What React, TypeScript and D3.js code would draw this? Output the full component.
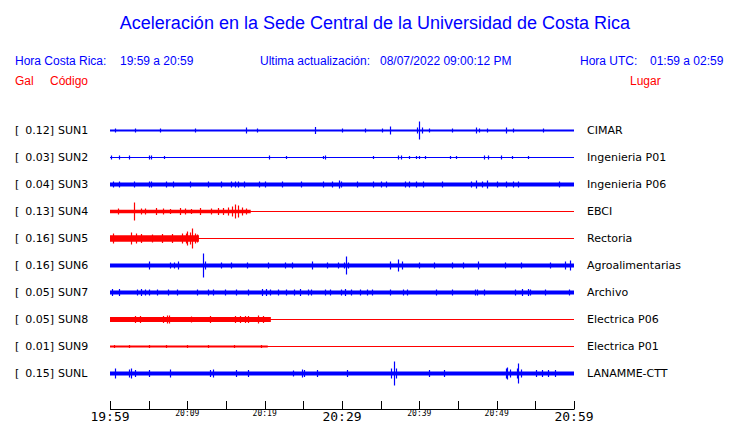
import React from "react";
import * as d3 from "d3";

const W = 740;
const H = 423;

const stations = ["SUN1", "SUN2", "SUN3", "SUN4", "SUN5", "SUN6", "SUN7", "SUN8", "SUN9", "SUNL"];
const galValues = ["0.12", "0.03", "0.04", "0.13", "0.16", "0.16", "0.05", "0.05", "0.01", "0.15"];
const places = ["CIMAR", "Ingenieria P01", "Ingenieria P06", "EBCI", "Rectoria", "Agroalimentarias", "Archivo", "Electrica P06", "Electrica P01", "LANAMME-CTT"];
const colors = ["blue", "blue", "blue", "red", "red", "blue", "blue", "red", "red", "blue"];
// background noise half-amplitude (relative units)
const noiseLevels = [1, 0.5, 2, 1.8, 3.3, 1.9, 2.1, 2.4, 1, 2];
// minute at which recorded signal ends (then flat line)
const dataEnds = [60, 60, 60, 18.2, 11.5, 60, 60, 20.8, 20.4, 60];
// spikes: [minute, half amplitude]
const spikeList: [number, number][][] = [
  [[0.6, 2], [3.2, 2], [6.5, 2], [11, 2], [17.6, 3], [19, 2], [26.5, 3.5], [30, 2], [33, 2], [35.2, 2], [36.2, 4], [39.7, 3], [39.95, 9], [40.3, 3], [41.2, 2], [44.2, 2], [47.3, 3], [47.7, 2], [48.8, 2], [51.2, 3], [52.1, 2], [56, 2]],
  [[0.1, 2], [1.1, 2], [2.5, 2], [5, 2], [5.3, 2], [7, 1.5], [20.5, 2], [22.7, 1.5], [27.5, 1.5], [27.8, 2], [34, 1.5], [37.3, 2], [37.6, 2], [38.7, 1.5], [39.6, 1.5], [40, 1.5], [40.7, 1.5], [44, 1.5], [44.7, 1.5], [48.4, 2], [48.9, 2], [50.6, 2], [52, 1.5], [54, 1.5]],
  [[0.4, 3], [1.1, 3], [3.1, 3], [5, 3], [5.3, 3], [7.2, 3], [8.1, 3], [10.3, 3], [12.7, 3], [14.3, 3], [15.6, 3], [16.2, 3], [16.6, 3], [17.3, 3], [19.3, 3], [20.1, 3], [22.3, 3], [24.7, 3], [27.5, 3], [28.7, 3], [29.6, 4], [29.9, 3], [32, 3], [34, 3], [35.1, 3], [35.7, 3], [38.1, 3], [38.7, 3], [39.6, 3], [40.5, 3], [42.9, 3], [46.7, 3], [47.3, 4], [48.1, 3], [48.7, 4], [50.1, 3], [51.2, 3], [52.1, 3], [52.7, 3], [58.1, 3]],
  [[1.0, 3], [3.1, 9], [4, 3], [4.5, 3], [6, 3.5], [6.8, 3], [7.7, 2.5], [9, 3.5], [9.7, 3], [10.5, 2.5], [11.6, 3.5], [13, 3], [14, 3.5], [14.6, 3.5], [15.2, 4], [15.8, 5], [16.1, 7], [16.6, 6], [17.1, 4], [17.6, 3]],
  [[0.4, 5], [2.7, 6], [3.4, 5], [4, 4.5], [5.4, 4], [6.7, 4.5], [8, 4.5], [9.3, 5], [9.8, 5], [10, 7], [10.4, 6], [10.6, 10], [11, 5], [11.2, 4]],
  [[5, 4], [7.8, 3], [8.3, 3], [8.8, 4], [12.0, 12], [12.3, 4], [14.4, 3], [15.7, 3], [17.7, 3], [20.4, 3], [22.6, 3], [23.5, 3], [26.1, 4], [28, 3], [29.5, 3], [30.2, 3], [30.5, 9], [30.8, 3], [36.2, 4], [37.2, 6], [37.8, 4], [40, 3], [41.9, 3], [44.2, 3], [45.6, 3], [47.6, 4], [51.1, 3], [53.2, 3], [56.9, 3], [58.8, 4], [59.5, 5]],
  [[0.3, 3.5], [1.2, 3.5], [3.5, 3], [4, 3.5], [4.5, 3], [5, 3], [6.1, 3], [7.5, 3], [8.7, 3], [11.2, 3], [12.7, 3], [13.3, 3], [14.9, 3], [16.3, 3], [17.8, 3], [19.7, 3.5], [20.2, 3.5], [20.7, 3], [21.7, 3], [22.8, 3], [23.8, 3], [24.6, 3.5], [25.6, 3], [26, 3], [27.8, 3], [28.5, 3], [29.9, 3], [30.4, 3.5], [31.1, 3], [32.3, 3], [33.2, 3], [33.9, 3], [36.2, 3], [37.9, 3], [38.4, 3], [42.2, 3], [44.2, 3], [47.2, 3], [47.5, 3], [48.3, 3], [52.4, 3], [53.3, 3.5], [54.1, 3.5], [54.3, 3], [56.3, 3], [59.4, 3]],
  [[3.2, 3.5], [3.9, 3.5], [6.8, 3.5], [7.4, 4], [7.6, 4], [10.5, 3], [12.9, 3.5], [16.2, 3.5], [16.8, 3.5], [17.4, 3.5], [17.9, 3.5], [19.1, 4], [19.8, 3.5]],
  [[0.5, 1.5], [2.5, 1.5], [5, 1.5], [7.2, 1.5], [10, 1.5], [12.7, 1.5], [16, 1.5], [19.5, 1.5]],
  [[0.7, 5], [2.5, 4], [2.7, 5], [3.2, 3.5], [5, 3.5], [7.8, 4], [12.9, 3.5], [13.3, 4], [16.3, 3.5], [17.8, 3.5], [23.6, 3], [24.8, 4], [25.1, 3.5], [26.8, 3.5], [30.6, 3.5], [36.4, 5], [36.7, 12], [37, 5], [41.3, 3.5], [43.2, 3.5], [51.2, 5], [51.4, 6], [51.7, 4], [52.6, 5], [52.7, 10], [53.2, 4], [55.1, 3.5], [55.8, 3.5], [56.6, 3.5], [57.5, 3.5]],
];

const tickMinutes = d3.range(0, 61, 5);
const tickLabels: { m: number; text: string; big: boolean }[] = [
  { m: 0, text: "19:59", big: true },
  { m: 10, text: "20:09", big: false },
  { m: 20, text: "20:19", big: false },
  { m: 30, text: "20:29", big: true },
  { m: 40, text: "20:39", big: false },
  { m: 50, text: "20:49", big: false },
  { m: 60, text: "20:59", big: true },
];

const SANS = "'Liberation Sans', Arial, sans-serif";
const DJ = "'DejaVu Sans', sans-serif";
const MONO = "'DejaVu Sans Mono', monospace";

export default function App() {
  const x = d3.scaleLinear().domain([0, 60]).range([110, 574]);
  const rowY = d3.scaleLinear().domain([0, 9]).range([130, 373]);
  const amp = d3.scaleLinear().domain([-1, 1]).range([1, -1]);

  return (
    <svg width={W} height={H} style={{ display: "block", position: "absolute", left: 0, top: 0, background: "#fff" }}>
      <text x={375} y={29} textAnchor="middle" fontFamily={SANS} fontSize={18} fill="blue">
        Aceleración en la Sede Central de la Universidad de Costa Rica
      </text>
      <g fontFamily={SANS} fontSize={12} fill="blue">
        <text x={15} y={65}>Hora Costa Rica:</text>
        <text x={120} y={65}>19:59 a 20:59</text>
        <text x={260} y={65}>Ultima actualización:</text>
        <text x={380} y={65}>08/07/2022 09:00:12 PM</text>
        <text x={580} y={65}>Hora UTC:</text>
        <text x={650} y={65}>01:59 a 02:59</text>
      </g>
      <g fontFamily={SANS} fontSize={12} fill="red">
        <text x={15} y={85}>Gal</text>
        <text x={50} y={85}>Código</text>
        <text x={630} y={85}>Lugar</text>
      </g>
      {stations.map((s, i) => {
        const cy = rowY(i);
        const c = colors[i];
        const n = noiseLevels[i];
        const end = dataEnds[i];
        const band = d3
          .area<number>()
          .x((d) => x(d))
          .y0(() => cy + 0.5 + amp(-n))
          .y1(() => cy + 0.5 + amp(n));
        const line = d3.line<number>().x((d) => x(d)).y(() => cy + 0.5);
        return (
          <g key={s}>
            <text x={15} y={cy + 4} fontFamily={DJ} fontSize={11} fill="#000">[</text>
            <text x={54} y={cy + 4} textAnchor="end" fontFamily={DJ} fontSize={11} fill="#000">{galValues[i]}]</text>
            <text x={58} y={cy + 4} fontFamily={DJ} fontSize={11} fill="#000">{s}</text>
            <text x={587} y={cy + 4} fontFamily={DJ} fontSize={11} fill="#000">{places[i]}</text>
            <path d={line([0, 60]) || ""} stroke={c} strokeWidth={1} fill="none" />
            <path d={band([0, end]) || ""} fill={c} />
            {spikeList[i].map(([m, a], k) => (
              <line key={k} x1={Math.round(x(m)) + 0.5} x2={Math.round(x(m)) + 0.5} y1={cy + 0.5 + amp(-a)} y2={cy + 0.5 + amp(a)} stroke={c} strokeWidth={1.2} />
            ))}
          </g>
        );
      })}
      <g>
        <line x1={x(0)} x2={x(60)} y1={409.5} y2={409.5} stroke="#000" strokeWidth={1} />
        {tickMinutes.map((m) => (
          <line key={m} x1={Math.round(x(m)) + 0.5} x2={Math.round(x(m)) + 0.5} y1={401} y2={409.5} stroke="#000" strokeWidth={1} />
        ))}
        {tickLabels.map((t) => (
          <text key={t.m} x={x(t.m)} y={t.big ? 421 : 416} textAnchor="middle" fontFamily={MONO} fontSize={t.big ? 13 : 8} fill="#000">
            {t.text}
          </text>
        ))}
      </g>
    </svg>
  );
}
